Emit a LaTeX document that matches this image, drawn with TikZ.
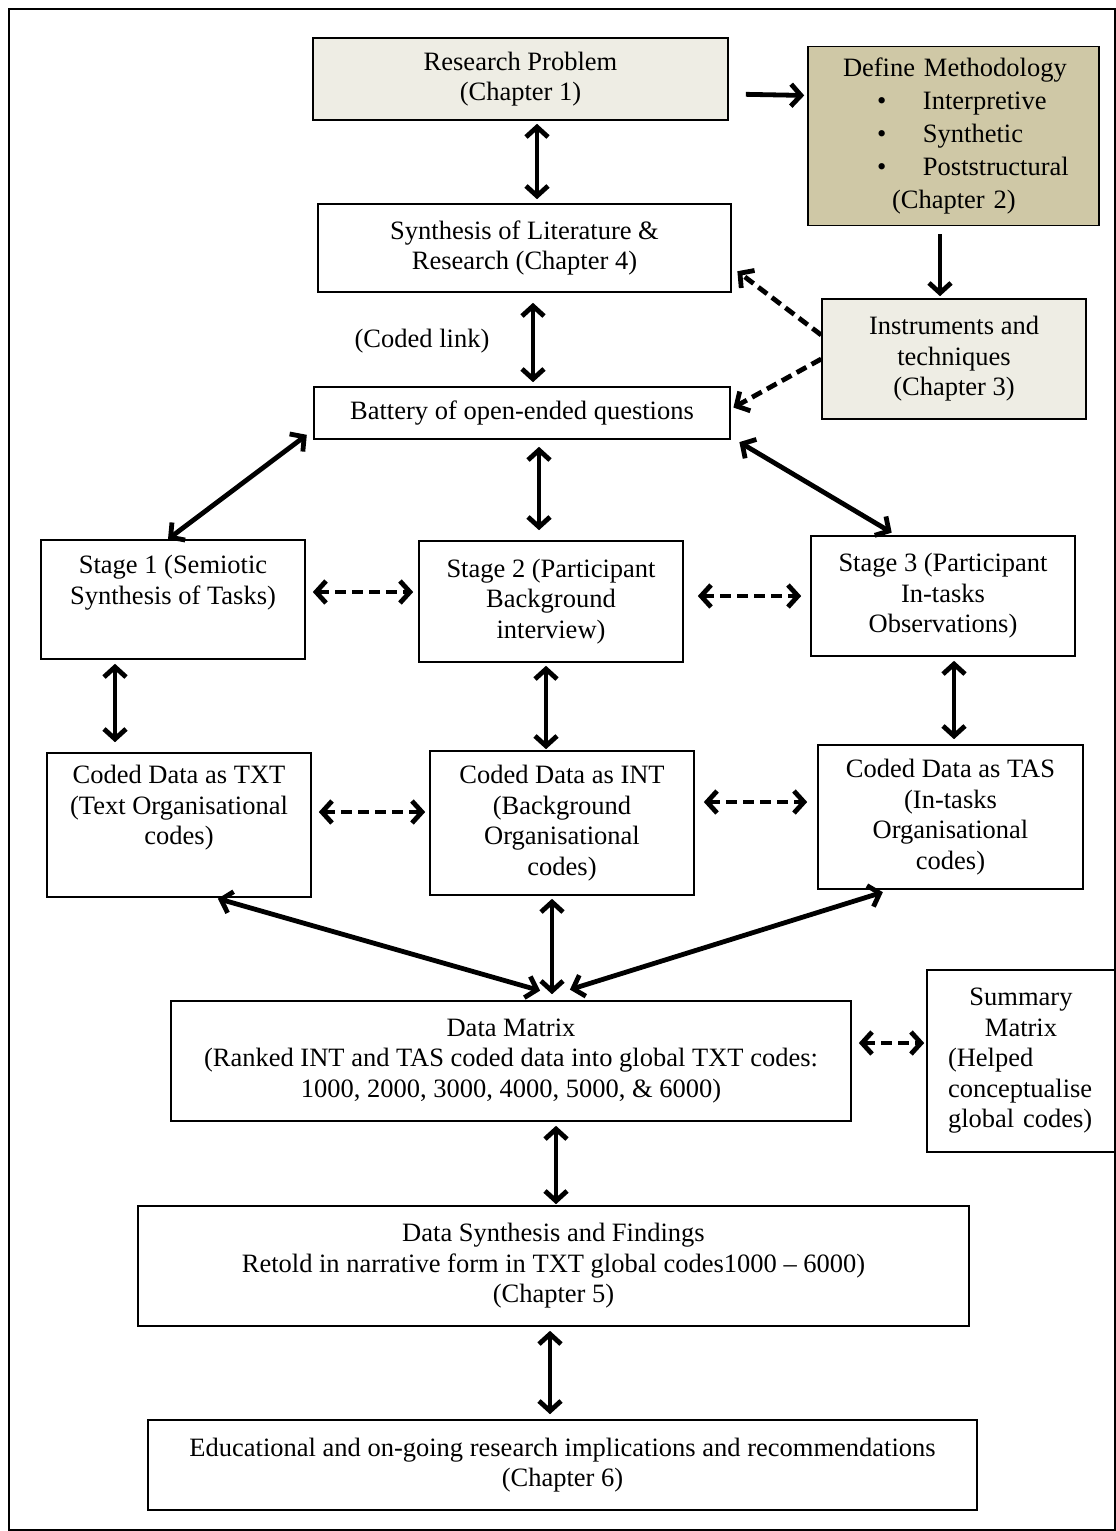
\documentclass[tikz,border=0pt]{standalone}
\usepackage{fontspec}
\setmainfont{Liberation Serif}
\usetikzlibrary{arrows.meta}
\definecolor{paleFill}{RGB}{238,237,228}
\definecolor{khakiFill}{RGB}{207,200,166}
\tikzset{
  box/.style={draw, line width=1.6pt, inner sep=0pt, align=center,
    font=\fontsize{26.5}{30.5}\selectfont},
  link/.style={line width=4.8pt, {Straight Barb[length=10pt,width=22pt]}-{Straight Barb[length=10pt,width=22pt]}},
  dlink/.style={link, dash pattern=on 11pt off 6pt},
  onelink/.style={line width=4.8pt, -{Straight Barb[length=10pt,width=22pt]}},
  donelink/.style={onelink, dash pattern=on 11pt off 6pt}
}
\begin{document}
\begin{tikzpicture}[x=1pt,y=-1pt]
  \useasboundingbox (0,0) rectangle (1116,1531);
  \draw[line width=1.5pt] (9,9) rectangle (1115,1530);

  \node[box, fill=paleFill, minimum width=415, minimum height=82] (rp) at (520.5,79) {Research Problem\\(Chapter 1)};
  \node[box, fill=khakiFill, minimum width=291, minimum height=179, text width=291, align=left,
    font=\fontsize{26.5}{33}\selectfont] (meth) at (953.5,136)
    {\hspace*{35pt}Define Methodology\\
     \hspace*{69pt}\makebox[46pt][l]{\textbullet}Interpretive\\
     \hspace*{69pt}\makebox[46pt][l]{\textbullet}Synthetic\\
     \hspace*{69pt}\makebox[46pt][l]{\textbullet}Poststructural\\
     \hspace*{84pt}(Chapter 2)};
  \node[box, minimum width=413, minimum height=88] (synth) at (524.5,248) {Synthesis of Literature \&\\Research (Chapter 4)};
  \node[box, fill=paleFill, minimum width=264, minimum height=120] (instr) at (954,359) {Instruments and\\techniques\\(Chapter 3)};
  \node[box, minimum width=416, minimum height=52] (batt) at (522,413) {Battery of open-ended questions};
  \node[font=\fontsize{26.5}{30.5}\selectfont] (coded) at (422,341) {(Coded link)};

  \node[box, minimum width=264, minimum height=119] (st1) at (173,599.5) {Stage 1 (Semiotic\\Synthesis of Tasks)\\\strut};
  \node[box, minimum width=264, minimum height=121] (st2) at (551,601.5) {Stage 2 (Participant\\Background\\interview)};
  \node[box, minimum width=264, minimum height=120] (st3) at (943,596) {Stage 3 (Participant\\In-tasks\\Observations)};

  \node[box, minimum width=264, minimum height=144] (txt) at (179,825) {Coded Data as TXT\\(Text Organisational\\codes)\\\strut};
  \node[box, minimum width=264, minimum height=144] (int) at (562,823) {Coded Data as INT\\(Background\\Organisational\\codes)};
  \node[box, minimum width=265, minimum height=144] (tas) at (950.5,817) {Coded Data as TAS\\(In-tasks\\Organisational\\codes)};

  \node[box, minimum width=680, minimum height=120] (dmat) at (511,1061) {Data Matrix\\(Ranked INT and TAS coded data into global TXT codes:\\1000, 2000, 3000, 4000, 5000, \& 6000)};
  \node[box, minimum width=188, minimum height=182, text width=188, align=left] (summ) at (1021,1061)
    {\makebox[188pt]{Summary}\\\makebox[188pt]{Matrix}\\\hspace*{21pt}(Helped\\\hspace*{21pt}conceptualise\\\hspace*{21pt}global codes)};
  \node[box, minimum width=831, minimum height=120] (dsyn) at (553.5,1266) {Data Synthesis and Findings\\Retold in narrative form in TXT global codes1000 -- 6000)\\(Chapter 5)};
  \node[box, minimum width=829, minimum height=90] (edu) at (562.5,1465) {Educational and on-going research implications and recommendations\\(Chapter 6)};

  \draw[onelink, shorten <=17pt, shorten >=3pt] ([yshift=-15pt]rp.east) -- ([yshift=40.5pt]meth.west);
  \draw[onelink, shorten <=8pt, shorten >=2pt] ([xshift=-13.5pt]meth.south) -- ([xshift=-14pt]instr.north);
  \draw[link, shorten <=3pt, shorten >=4pt] ([xshift=16.5pt]rp.south) -- ([xshift=12.5pt]synth.north);
  \draw[link, shorten <=10pt, shorten >=4pt] ([xshift=8.5pt]synth.south) -- ([xshift=11pt]batt.north);
  \draw[donelink, shorten >=7pt] ([yshift=24pt]instr.west) -- ([yshift=-19pt]synth.east);
  \draw[donelink, shorten >=3pt] (instr.west) -- ([yshift=4pt]batt.east);

  \draw[link, shorten <=8pt] ([yshift=-17pt]batt.west) -- ([xshift=-5pt]st1.north);
  \draw[link, shorten <=7pt, shorten >=10pt] ([xshift=17pt]batt.south) -- ([xshift=-12pt]st2.north);
  \draw[link, shorten <=10pt, shorten >=5pt] ([yshift=-24pt]batt.east) -- ([xshift=-47pt]st3.north);
  \draw[dlink, shorten <=7pt, shorten >=5pt] ([yshift=7.5pt]st1.east) -- ([yshift=9.5pt]st2.west);
  \draw[dlink, shorten <=14pt, shorten >=9pt] ([yshift=5.5pt]st2.east) -- (st3.west);

  \draw[link, shorten <=4pt, shorten >=10pt] ([xshift=-58pt]st1.south) -- ([xshift=-64pt]txt.north);
  \draw[link, shorten <=3pt, shorten >=1pt] ([xshift=-5pt]st2.south) -- ([xshift=-16pt]int.north);
  \draw[link, shorten <=4pt, shorten >=5pt] ([xshift=11pt]st3.south) -- ([xshift=3.5pt]tas.north);
  \draw[dlink, shorten <=7pt, shorten >=4pt] ([yshift=13pt]txt.east) -- ([yshift=11pt]int.west);
  \draw[dlink, shorten <=9pt, shorten >=10pt] ([yshift=21pt]int.east) -- ([yshift=15pt]tas.west);

  \draw[link, shorten <=3pt, shorten >=2pt] ([xshift=36pt]txt.south) -- ([xshift=31pt,yshift=9pt]dmat.north);
  \draw[link, shorten <=3pt, shorten >=6pt] ([xshift=-10pt]int.south) -- ([xshift=41pt]dmat.north);
  \draw[link, shorten <=8pt, shorten >=2pt] ([xshift=-60pt]tas.south) -- ([xshift=57pt,yshift=10pt]dmat.north);
  \draw[dlink, shorten <=7pt, shorten >=2pt] ([yshift=18pt]dmat.east) -- ([yshift=18pt]summ.west);
  \draw[link, shorten <=4pt, shorten >=1pt] ([xshift=45pt]dmat.south) -- ([xshift=2.5pt]dsyn.north);
  \draw[link, shorten <=4pt, shorten >=5pt] ([xshift=-3.5pt]dsyn.south) -- ([xshift=-12.5pt]edu.north);
\end{tikzpicture}
\end{document}
